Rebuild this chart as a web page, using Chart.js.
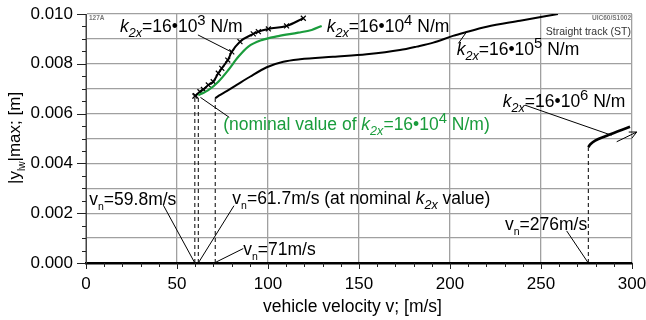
<!DOCTYPE html>
<html><head><meta charset="utf-8">
<script src="https://cdn.jsdelivr.net/npm/chart.js@4/dist/chart.umd.min.js"></script>
<style>html,body{margin:0;padding:0;background:#fff}#wrap{width:646px;height:320px}</style>
</head><body><div id="wrap"><canvas id="c" width="646" height="320"></canvas></div>
<script>
// ---- data (vehicle velocity [m/s], |y_lw|max [m]) ----
const velK3 = [59.8, 60.2, 62.6, 64.5, 67.2, 69.9, 72.7, 74.6, 77.9, 80.1, 84.6, 91.9, 94.7, 100.2, 110.2, 119.4];
const dispK3 = [0.00670, 0.00672, 0.00688, 0.00697, 0.00715, 0.00728, 0.00762, 0.00782, 0.00815, 0.00848, 0.00889, 0.00920, 0.00929, 0.00940, 0.00952, 0.00983];
const velK4 = [61.7, 64.0, 67.2, 72.7, 78.2, 83.7, 89.2, 96.5, 105.7, 116.6, 124.0, 129.5];
const dispK4 = [0.00674, 0.00682, 0.00694, 0.00728, 0.00775, 0.00828, 0.00869, 0.00895, 0.00911, 0.00925, 0.00936, 0.00952];
const velK5 = [71.0, 73.0, 77.3, 82.8, 90.1, 99.3, 108.4, 117.6, 135.7, 154.2, 172.5, 181.7, 190.8, 201.6, 208.2, 220.2, 238.5, 259.3];
const dispK5 = [0.00662, 0.00672, 0.00690, 0.00715, 0.00748, 0.00786, 0.00808, 0.00818, 0.00828, 0.00838, 0.00855, 0.00869, 0.00885, 0.00912, 0.00926, 0.00949, 0.00973, 0.01000];
const velK6 = [276.0, 277.0, 286.1, 298.9];
const dispK6 = [0.00465, 0.00476, 0.00511, 0.00547];
const critVel = [59.8, 61.7, 71.0, 276.0];
const critTop = [0.00670, 0.00674, 0.00662, 0.00465];
const xTickLabels = [0, 50, 100, 150, 200, 250, 300];
const yTickLabels = ['0.000', '0.002', '0.004', '0.006', '0.008', '0.010'];

// annotation texts (anchor in data coords: left x, baseline y)
const labelText = ['k16e3', 'k16e4', 'k16e5', 'k16e6', 'nominal', 'vn59', 'vn61', 'vn71', 'vn276'];
const labelX = [18.7, 132.3, 203.7, 229.0, 75.4, 1.8, 80.4, 86.4, 230.2];
const labelY = [0.00928, 0.00929, 0.00835, 0.00627, 0.00534, 0.00232, 0.00236, 0.00031, 0.00134];
// leader lines [x1,y1,x2,y2]
const leaderLines = [
  [61.5, 0.00916, 80.1, 0.00847],
  [204.6, 0.00882, 209.2, 0.00929],
  [241.2, 0.00634, 288.8, 0.00513],
  [62.9, 0.00665, 78.7, 0.00585],
  [42.5, 0.00232, 59.8, 0.00000],
  [81.3, 0.00230, 61.7, 0.00000],
  [86.4, 0.00058, 71.0, 0.00002],
  [264.1, 0.00129, 275.8, 0.00002]
];
const arrowLine = [291.6, 0.00487, 302.6, 0.00526];

const FONT = 'Liberation Sans, Arial, sans-serif';
const GREEN = '#1a9c3c';

function richParts(key){
  const k = (exp) => [{t:'k',i:1},{t:'2x',i:1,sub:1},{t:'=16•10'},{t:exp,sup:1},{t:' N/m'}];
  switch(key){
    case 'k16e3': return k('3');
    case 'k16e4': return k('4');
    case 'k16e5': return k('5');
    case 'k16e6': return k('6');
    case 'nominal': return [{t:'(nominal value of '},{t:'k',i:1},{t:'2x',i:1,sub:1},{t:'=16•10'},{t:'4',sup:1},{t:' N/m)'}];
    case 'vn59': return [{t:'v'},{t:'n',sub:1,small:1},{t:'=59.8m/s'}];
    case 'vn61': return [{t:'v'},{t:'n',sub:1,small:1},{t:'=61.7m/s (at nominal '},{t:'k',i:1},{t:'2x',i:1,sub:1},{t:' value)'}];
    case 'vn71': return [{t:'v'},{t:'n',sub:1,small:1},{t:'=71m/s'}];
    case 'vn276': return [{t:'v'},{t:'n',sub:1,small:1},{t:'=276m/s'}];
  }
  return [];
}
function drawRich(ctx, x, y, parts, size, color){
  ctx.save();
  ctx.fillStyle = color; ctx.textBaseline = 'alphabetic'; ctx.textAlign = 'left';
  let cx = x;
  for(const p of parts){
    let s = size, dy = 0;
    if(p.sub){ s = p.small ? size*0.6 : size*0.72; dy = size*0.28; }
    if(p.sup){ s = size*0.85; dy = -size*0.38; }
    ctx.font = (p.i ? 'italic ' : '') + s + 'px ' + FONT;
    ctx.fillText(p.t, cx, y + dy);
    cx += ctx.measureText(p.t).width;
  }
  ctx.restore();
}

const annot = {
  id: 'annot',
  afterDatasetsDraw(chart){
    const ctx = chart.ctx, xs = chart.scales.x, ys = chart.scales.y, a = chart.chartArea;
    // minor/major tick marks
    ctx.save();
    ctx.strokeStyle = '#222'; ctx.lineWidth = 1;
    for(let i=0;i<=30;i++){
      const px = Math.round(xs.getPixelForValue(i*10))+0.5;
      const len = (i%5===0) ? 6 : 4;
      ctx.beginPath(); ctx.moveTo(px, a.bottom); ctx.lineTo(px, a.bottom+len); ctx.stroke();
    }
    for(let i=0;i<=20;i++){
      const py = Math.round(ys.getPixelForValue(i*0.0005))+0.5;
      const len = (i%4===0) ? 9 : 4;
      ctx.beginPath(); ctx.moveTo(a.left, py); ctx.lineTo(a.left-len, py); ctx.stroke();
    }
    ctx.restore();
    // leader lines
    ctx.save();
    ctx.strokeStyle = '#000'; ctx.lineWidth = 1;
    for(const L of leaderLines){
      ctx.beginPath();
      ctx.moveTo(xs.getPixelForValue(L[0]), ys.getPixelForValue(L[1]));
      ctx.lineTo(xs.getPixelForValue(L[2]), ys.getPixelForValue(L[3]));
      ctx.stroke();
    }
    // arrow
    const ax1 = xs.getPixelForValue(arrowLine[0]), ay1 = ys.getPixelForValue(arrowLine[1]);
    const ax2 = xs.getPixelForValue(arrowLine[2]), ay2 = ys.getPixelForValue(arrowLine[3]);
    ctx.beginPath(); ctx.moveTo(ax1, ay1); ctx.lineTo(ax2, ay2); ctx.stroke();
    const ang = Math.atan2(ay2-ay1, ax2-ax1);
    ctx.beginPath();
    ctx.moveTo(ax2 - 8*Math.cos(ang-0.45), ay2 - 8*Math.sin(ang-0.45));
    ctx.lineTo(ax2, ay2);
    ctx.lineTo(ax2 - 8*Math.cos(ang+0.45), ay2 - 8*Math.sin(ang+0.45));
    ctx.stroke();
    ctx.restore();
    // labels
    for(let i=0;i<labelText.length;i++){
      const col = labelText[i]==='nominal' ? GREEN : '#000';
      drawRich(ctx, xs.getPixelForValue(labelX[i]), ys.getPixelForValue(labelY[i]), richParts(labelText[i]), 17.5, col);
    }
    // corner notes
    ctx.save();
    ctx.fillStyle = '#777'; ctx.font = 'bold 6.5px ' + FONT; ctx.textBaseline = 'alphabetic';
    ctx.textAlign = 'left'; ctx.fillText('127A', a.left+3, a.top+6);
    ctx.textAlign = 'right'; ctx.fillText('UIC60/S1002', a.right-1, a.top+6);
    ctx.fillStyle = '#333'; ctx.font = '10.5px ' + FONT;
    ctx.fillText('Straight track (ST)', a.right-1, a.top+21);
    ctx.restore();
    // axis titles
    drawRich(ctx, 263, 312, [{t:'vehicle velocity v; [m/s]'}], 17.5, '#000');
    ctx.save();
    ctx.translate(20, 184); ctx.rotate(-Math.PI/2);
    drawRich(ctx, 0, 0, [{t:'|y'},{t:'lw',sub:1,small:1},{t:'|max; [m]'}], 17, '#000');
    ctx.restore();
  }
};

function pts(xs, ys){ return xs.map((x,i)=>({x:x, y:ys[i]})); }
const datasets = [
  {data: pts(velK5, dispK5), borderColor:'#000', borderWidth:2, pointRadius:0, cubicInterpolationMode:'monotone'},
  {data: pts(velK4, dispK4), borderColor:GREEN, borderWidth:2.2, pointRadius:0, cubicInterpolationMode:'monotone'},
  {data: pts(velK3, dispK3), borderColor:'#000', borderWidth:2, pointStyle:'crossRot', pointRadius:3.5, pointBorderWidth:1.2, pointBorderColor:'#000', cubicInterpolationMode:'monotone'},
  {data: pts(velK6, dispK6), borderColor:'#000', borderWidth:2.6, pointRadius:0, cubicInterpolationMode:'monotone', clip:false}
];
critVel.forEach((v,i)=>{
  datasets.push({data:[{x:v,y:0},{x:v,y:critTop[i]}], borderColor:'#000', borderWidth:1, borderDash:[4,3], pointRadius:0});
});

Chart.defaults.font.family = FONT;
Chart.defaults.font.size = 17;
Chart.defaults.color = '#000';

new Chart(document.getElementById('c'), {
  type: 'line',
  data: { datasets },
  plugins: [annot],
  options: {
    responsive:false, animation:false, devicePixelRatio:1,
    layout:{ padding:{ top:14, right:14, left:0, bottom:0 } },
    plugins:{ legend:{display:false}, tooltip:{enabled:false} },
    scales:{
      x:{
        type:'linear', min:0, max:300,
        afterFit(s){ s.height = 57; s.paddingRight = 0; s.paddingLeft = 0; },
        afterBuildTicks(s){ s.ticks = []; for(let i=0;i<=30;i++) s.ticks.push({value:i*10}); },
        ticks:{ autoSkip:false, maxRotation:0, padding:11, font:{size:17},
          callback(v){ return xTickLabels.includes(Math.round(v)) && Math.round(v)%50===0 ? String(Math.round(v)) : ''; } },
        grid:{ drawTicks:false, lineWidth:1.3, color(c){ return Math.round(c.tick.value)%50===0 ? '#a0a0a0' : 'rgba(0,0,0,0)'; } },
        border:{ color:'#000', width:2.6 }
      },
      y:{
        type:'linear', min:0, max:0.010,
        afterFit(s){ s.width = 86; s.paddingTop = 0; s.paddingBottom = 0; },
        afterBuildTicks(s){ s.ticks = []; for(let i=0;i<=20;i++) s.ticks.push({value:i*0.0005}); },
        ticks:{ autoSkip:false, padding:13, font:{size:17},
          callback(v){ const k = Math.round(v*10000); return k%20===0 ? yTickLabels[k/20] : ''; } },
        grid:{ drawTicks:false, lineWidth:1.3, color(c){ return Math.round(c.tick.value*10000)%10===0 ? '#a0a0a0' : 'rgba(0,0,0,0)'; } },
        border:{ color:'#444', width:1 }
      }
    }
  }
});
</script></body></html>
